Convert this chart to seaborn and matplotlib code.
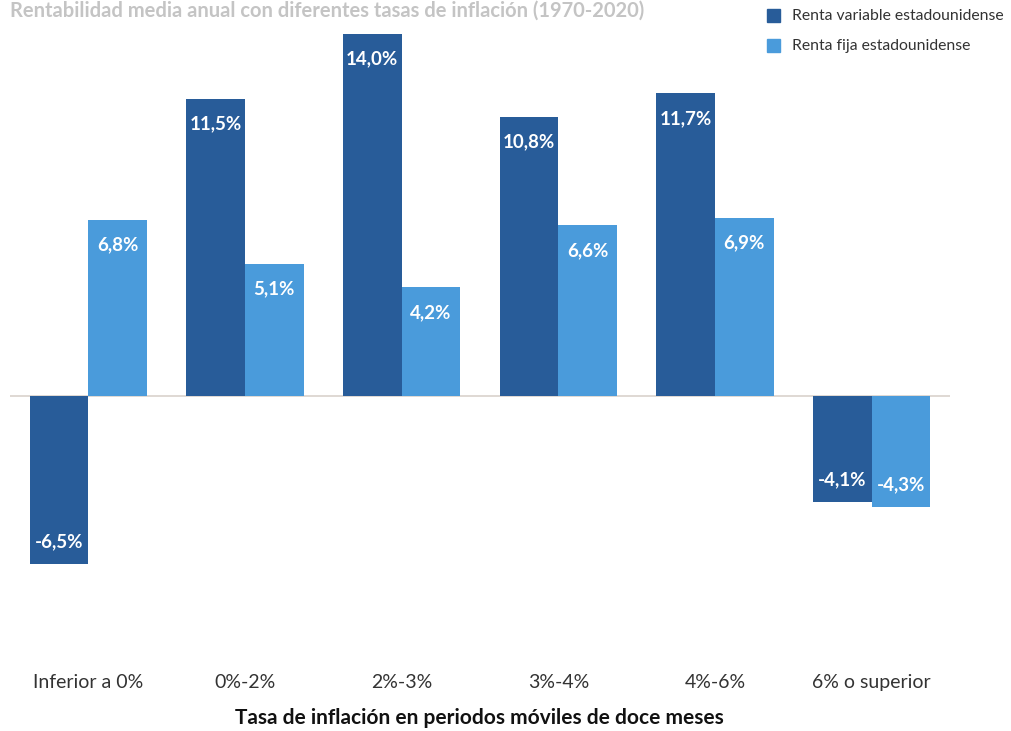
import matplotlib
matplotlib.use("Agg")
import matplotlib.pyplot as plt
import seaborn as sns
import pandas as pd
from matplotlib.patches import Rectangle

categories = ["Inferior a 0%", "0%-2%", "2%-3%", "3%-4%", "4%-6%", "6% o superior"]
series_names = ["Renta variable estadounidense", "Renta fija estadounidense"]
renta_variable = [-6.5, 11.5, 14.0, 10.8, 11.7, -4.1]
renta_fija = [6.8, 5.1, 4.2, 6.6, 6.9, -4.3]
title = "Rentabilidad media anual con diferentes tasas de inflación (1970-2020)"
xlabel = "Tasa de inflación en periodos móviles de doce meses"

colors = ["#285C99", "#4A9BDB"]

df = pd.DataFrame({
    "cat": categories * 2,
    "serie": [series_names[0]] * len(categories) + [series_names[1]] * len(categories),
    "val": renta_variable + renta_fija,
})

sns.set_theme(style="white")
FONT = ["Lato", "DejaVu Sans"]
plt.rcParams["font.family"] = FONT

W, H = 1011, 731
fig = plt.figure(figsize=(W / 100, H / 100), dpi=100)
ax_left, ax_right, ax_top, ax_bot = 10, 950, 30, 655
ax = fig.add_axes([ax_left / W, 1 - ax_bot / H, (ax_right - ax_left) / W, (ax_bot - ax_top) / H])

sns.barplot(data=df, x="cat", y="val", hue="serie", order=categories,
            hue_order=series_names, palette=colors, width=0.75, saturation=1,
            ax=ax, legend=False, edgecolor="none")

ppu = 25.86
ax.set_ylim(-(ax_bot - 396) / ppu, (396 - ax_top) / ppu)
ax.set_xlim(-0.5, 5.5)
ax.axhline(0, color="#D9D2CC", lw=1.2, zorder=0)

for cont in ax.containers:
    for bar in cont:
        h = bar.get_height()
        xc = bar.get_x() + bar.get_width() / 2
        txt = f"{h:.1f}".replace(".", ",") + "%"
        off = -18 if h >= 0 else 16
        ax.annotate(txt, (xc, h), xytext=(0, off), textcoords="offset points",
                    ha="center", va="center", color="white", fontsize=13.5,
                    fontweight="bold")

for s in ax.spines.values():
    s.set_visible(False)
ax.set_yticks([])
ax.set_ylabel("")
ax.set_xlabel("")
ax.tick_params(axis="x", length=0, pad=14, labelsize=14, labelcolor="#333333")

fig.text(479 / W, 1 - 718 / H, xlabel, ha="center", va="center",
         fontsize=15, fontweight="bold", color="#111111")

fig.text(10 / W, 1 - 1 / H, title, ha="left", va="top", fontsize=14.5,
         fontweight="bold", color="#C4C4C4")

# legend
for i, (name, c) in enumerate(zip(series_names, colors)):
    yc = 16 + 30 * i
    fig.patches.append(Rectangle((767 / W, 1 - (yc - 1 + 6.5) / H), 13 / W, 13 / H,
                                 transform=fig.transFigure, color=c, figure=fig))
    fig.text(792 / W, 1 - yc / H, name, ha="left", va="center", fontsize=11.3,
             color="#333333")

fig.savefig("out.png", dpi=100)
